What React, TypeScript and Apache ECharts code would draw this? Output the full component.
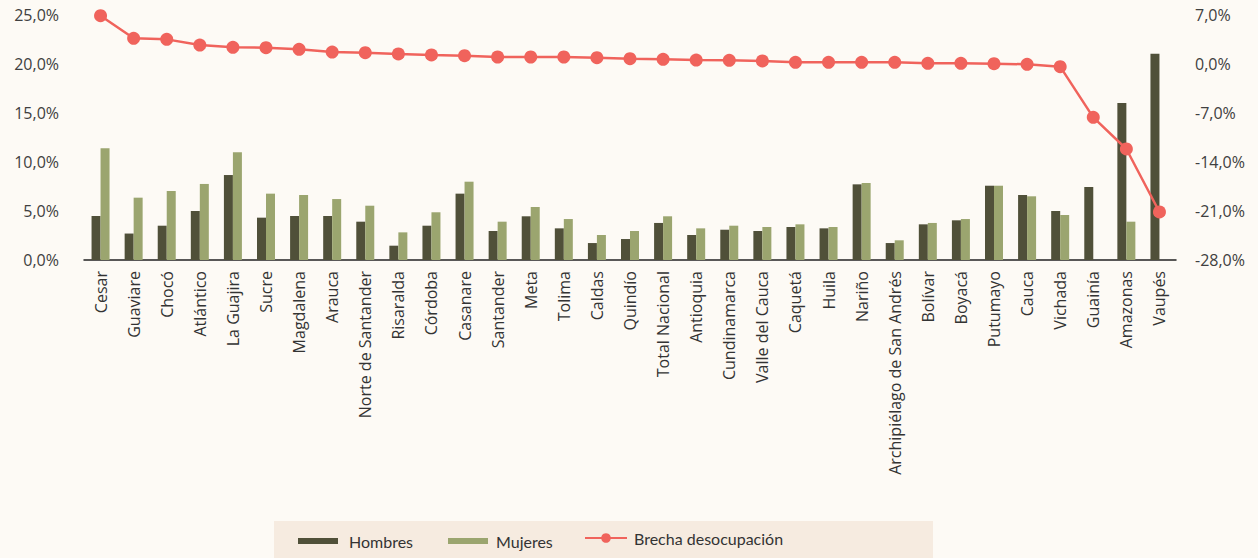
import React, { useEffect, useRef } from "react";
import * as echarts from "echarts";

const categories = [
  "Cesar", "Guaviare", "Chocó", "Atlántico", "La Guajira", "Sucre", "Magdalena", "Arauca",
  "Norte de Santander", "Risaralda", "Córdoba", "Casanare", "Santander", "Meta", "Tolima",
  "Caldas", "Quindío", "Total Nacional", "Antioquia", "Cundinamarca", "Valle del Cauca",
  "Caquetá", "Huila", "Nariño", "Archipiélago de San Andrés", "Bolívar", "Boyacá",
  "Putumayo", "Cauca", "Vichada", "Guainía", "Amazonas", "Vaupés",
];

const hombres = [
  4.49, 2.70, 3.50, 5.00, 8.67, 4.32, 4.49, 4.49, 3.91, 1.46, 3.50, 6.77, 2.96, 4.46, 3.23,
  1.73, 2.14, 3.78, 2.55, 3.09, 2.96, 3.37, 3.23, 7.72, 1.73, 3.64, 4.05, 7.58, 6.63, 5.00,
  7.45, 16.02, 21.05,
];

const mujeres = [
  11.40, 6.36, 7.04, 7.76, 10.99, 6.77, 6.63, 6.22, 5.54, 2.82, 4.87, 7.99, 3.91, 5.41, 4.18,
  2.55, 2.96, 4.46, 3.23, 3.50, 3.37, 3.64, 3.37, 7.86, 2.01, 3.78, 4.18, 7.58, 6.50, 4.59,
  0, 3.91, 0,
];

const brecha = [
  6.90, 3.67, 3.52, 2.71, 2.38, 2.33, 2.10, 1.71, 1.62, 1.43, 1.29, 1.19, 1.00, 1.00, 1.00,
  0.90, 0.76, 0.67, 0.57, 0.52, 0.43, 0.24, 0.24, 0.24, 0.24, 0.10, 0.10, 0.05, -0.05, -0.38,
  -7.62, -12.14, -21.14,
];

const FONT = "'Open Sans', 'Noto Sans', sans-serif";
const LEGEND_FONT = "Lato, 'Open Sans', sans-serif";
const fmt = (v: number) => v.toFixed(1).replace(".", ",") + "%";

const legendBase = {
  top: 533,
  padding: 0,
  itemWidth: 40,
  itemHeight: 6,
};
const legendText = (pad: number) => ({
  fontFamily: LEGEND_FONT,
  fontSize: 16,
  color: "#333333",
  padding: [0, 0, 0, pad],
});

export default function App() {
  const ref = useRef<HTMLDivElement>(null);
  useEffect(() => {
    if (!ref.current) return;
    const chart = echarts.init(ref.current, undefined, { renderer: "svg" });
    chart.setOption({
      animation: false,
      backgroundColor: "#FDFAF5",
      textStyle: { fontFamily: FONT },
      grid: { left: 84, right: 82, top: 15, bottom: 298, containLabel: false },
      graphic: [
        {
          type: "rect",
          shape: { x: 274, y: 521, width: 659, height: 37 },
          style: { fill: "#F6EBE0" },
          silent: true,
          z: -1,
        },
      ],
      legend: [
        { ...legendBase, left: 298, textStyle: legendText(6), data: [{ name: "Hombres", icon: "rect" }] },
        { ...legendBase, left: 448, textStyle: legendText(3), data: [{ name: "Mujeres", icon: "rect" }] },
        {
          ...legendBase,
          left: 584,
          itemWidth: 42,
          itemHeight: 12,
          top: 530,
          textStyle: legendText(2),
          data: [{ name: "Brecha desocupación" }],
        },
      ],
      xAxis: {
        type: "category",
        data: categories,
        axisLine: { lineStyle: { color: "#222222", width: 1.5 } },
        axisTick: { show: false },
        axisLabel: {
          rotate: 90,
          interval: 0,
          margin: 11,
          fontFamily: FONT,
          fontSize: 16,
          color: "#333333",
        },
      },
      yAxis: [
        {
          type: "value",
          min: 0,
          max: 25,
          interval: 5,
          splitLine: { show: false },
          axisLine: { show: false },
          axisTick: { show: false },
          axisLabel: {
            formatter: fmt,
            fontFamily: FONT,
            fontSize: 16,
            color: "#404040",
            margin: 25,
          },
        },
        {
          type: "value",
          min: -28,
          max: 7,
          interval: 7,
          splitLine: { show: false },
          axisLine: { show: false },
          axisTick: { show: false },
          axisLabel: {
            formatter: fmt,
            fontFamily: FONT,
            fontSize: 16,
            color: "#404040",
            margin: 19,
          },
        },
      ],
      series: [
        {
          name: "Hombres",
          type: "bar",
          data: hombres,
          barWidth: 9,
          barGap: "0%",
          itemStyle: { color: "#505039" },
        },
        {
          name: "Mujeres",
          type: "bar",
          data: mujeres,
          barWidth: 9,
          barGap: "0%",
          itemStyle: { color: "#9BA56F" },
        },
        {
          name: "Brecha desocupación",
          type: "line",
          yAxisIndex: 1,
          data: brecha,
          symbol: "circle",
          symbolSize: 13,
          lineStyle: { color: "#F0635C", width: 2.5 },
          itemStyle: { color: "#F0635C" },
          z: 5,
        },
      ],
    });
    return () => chart.dispose();
  }, []);
  return <div ref={ref} style={{ width: 1258, height: 558, position: "absolute", left: 0, top: 0 }} />;
}
